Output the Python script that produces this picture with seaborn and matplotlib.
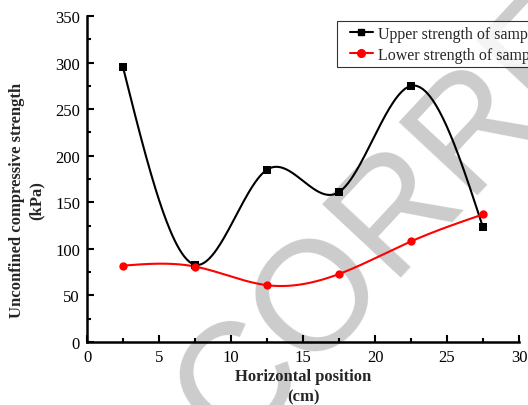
import numpy as np
import pandas as pd
import matplotlib
matplotlib.use("Agg")
import matplotlib.pyplot as plt
import seaborn as sns
from matplotlib.ticker import MultipleLocator
from matplotlib.lines import Line2D
from matplotlib.legend_handler import HandlerLine2D

positions = [2.5, 7.5, 12.5, 17.5, 22.5, 27.5]
upper = [295, 83, 185, 161, 275, 123]
lower = [82, 81, 61, 73, 108, 137]
labels = ["Upper strength of samples", "Lower strength of samples"]

sns.set_theme(style="ticks")
plt.rcParams['font.family'] = ['Liberation Serif', 'DejaVu Serif']


def natural_spline(x, y, n=300):
    x = np.asarray(x, float); y = np.asarray(y, float)
    m = len(x); h = np.diff(x)
    A = np.zeros((m, m)); b = np.zeros(m)
    A[0, 0] = A[-1, -1] = 1
    for i in range(1, m - 1):
        A[i, i - 1] = h[i - 1]; A[i, i] = 2 * (h[i - 1] + h[i]); A[i, i + 1] = h[i]
        b[i] = 6 * ((y[i + 1] - y[i]) / h[i] - (y[i] - y[i - 1]) / h[i - 1])
    M = np.linalg.solve(A, b)
    xs = np.linspace(x[0], x[-1], n)
    idx = np.clip(np.searchsorted(x, xs) - 1, 0, m - 2)
    x0, x1 = x[idx], x[idx + 1]; hh = x1 - x0
    ys = (M[idx] * (x1 - xs) ** 3 / (6 * hh) + M[idx + 1] * (xs - x0) ** 3 / (6 * hh)
          + (y[idx] / hh - M[idx] * hh / 6) * (x1 - xs)
          + (y[idx + 1] / hh - M[idx + 1] * hh / 6) * (xs - x0))
    return xs, ys

fig = plt.figure(figsize=(5.28, 4.06), dpi=100)
ax = fig.add_axes([87 / 528, 63 / 406, 432 / 528, 326 / 406])

# watermark (behind everything)
fig.text(394 / 528, 1 - 219 / 406, "CORRE", fontsize=112, color="#cccccc", rotation=47,
         ha="center", va="center", family="Liberation Sans", zorder=-1)
ax.set_facecolor("none")

for vals, col, mk in [(upper, "black", "s"), (lower, "red", "o")]:
    xs, ys = natural_spline(positions, vals)
    sm = pd.DataFrame({"x": xs, "y": ys})
    sns.lineplot(data=sm, x="x", y="y", ax=ax, color=col, lw=1.5, sort=False)
    df = pd.DataFrame({"x": positions, "y": vals})
    sns.scatterplot(data=df, x="x", y="y", ax=ax, color=col, marker=mk, s=36,
                    edgecolor=col, linewidth=0, zorder=5)

handles = [Line2D([], [], color="black", marker="s", lw=1.5, ms=5),
           Line2D([], [], color="red", marker="o", lw=1.5, ms=5.5)]
hm = {h: HandlerLine2D(xpad=0.5) for h in handles}
leg = fig.legend(handles, labels, loc="upper left", bbox_to_anchor=(337 / 528, 384 / 406),
                 frameon=True, fancybox=False, edgecolor="black", fontsize=11.5,
                 handlelength=1.94, handletextpad=0.3, borderpad=0.3, labelspacing=0.3,
                 borderaxespad=0, handler_map=hm)
leg.get_frame().set_linewidth(0.8)

ax.set_xlim(0, 30)
ax.set_ylim(0, 350)
ax.xaxis.set_major_locator(MultipleLocator(5))
ax.xaxis.set_minor_locator(MultipleLocator(2.5))
ax.yaxis.set_major_locator(MultipleLocator(50))
ax.yaxis.set_minor_locator(MultipleLocator(25))
ax.tick_params(which="both", direction="in", width=1.5, labelsize=12, colors="black")
ax.tick_params(which="major", length=5, pad=5)
ax.tick_params(which="minor", length=3)
for s in ["top", "right"]:
    ax.spines[s].set_visible(False)
for s in ["left", "bottom"]:
    ax.spines[s].set_linewidth(1.8)
    ax.spines[s].set_color("black")

ax.set_xlabel("Horizontal position\n(cm)", fontsize=12, fontweight="bold", labelpad=2, linespacing=1.4)
ax.set_ylabel("Unconfined compressive strength\n(kPa)", fontsize=12, fontweight="bold", linespacing=1.35)
ax.yaxis.set_label_coords(-0.097, 0.436)

fig.savefig("out.png", dpi=100)
